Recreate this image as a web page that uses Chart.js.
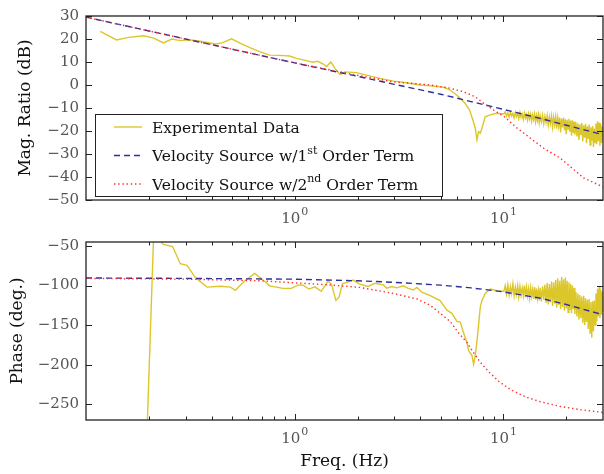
<!DOCTYPE html>
<html>
<head>
<meta charset="utf-8">
<script src="https://cdn.jsdelivr.net/npm/chart.js@4"></script>
<style>
  body { margin: 0; background: #fff; }
  #wrap { position: relative; width: 604px; height: 474px; }
  canvas { position: absolute; left: 0; }
</style>
</head>
<body>
<div id="wrap">
  <canvas id="magChart" width="604" height="226" style="top:0"></canvas>
  <canvas id="phaseChart" width="604" height="248" style="top:226px"></canvas>
</div>
<script>
// measured data (Hz, dB)
const magFreq = [0.117, 0.14, 0.16, 0.189, 0.211, 0.235, 0.258, 0.283, 0.31, 0.353, 0.417, 0.449, 0.498, 0.55, 0.614,
  0.679, 0.758, 0.847, 0.946, 1.02, 1.14, 1.22, 1.29, 1.37, 1.42, 1.49, 1.56, 1.65, 1.74, 1.98, 2.21, 2.56, 2.97, 3.44,
  3.99, 4.46, 5.17, 5.56, 6.1, 6.56, 6.88, 7.14, 7.33, 7.47, 7.6, 7.75, 7.89, 8.18, 8.65, 9.3, 10.05];
const magExp = [23.3, 19.6, 20.7, 21.4, 20.4, 18.3, 20, 19.3, 19.7, 19.0, 17.8, 18.3, 20.1, 18.1, 16.1,
  14.5, 13.0, 12.9, 12.6, 11.6, 10.6, 9.9, 10.3, 9.1, 8.0, 10.0, 7.2, 4.5, 5.7, 5.4, 4.3, 2.9, 1.7, 1.0,
  0, -0.4, -1.0, -2.2, -5.1, -8.0, -10.9, -15.2, -18.8, -23.9, -20.3, -21.0, -18.8, -13.8, -13.0, -12.3, -12.6];

// measured phase (Hz, deg)
const phaseFreq = [0.117, 0.14, 0.16, 0.189, 0.211, 0.235, 0.26, 0.283, 0.305, 0.334, 0.38, 0.441, 0.492, 0.52, 0.571,
  0.644, 0.726, 0.758, 0.879, 0.964, 1.04, 1.096, 1.17, 1.25, 1.34, 1.445, 1.5, 1.575, 1.63, 1.695, 1.77, 1.905, 2.05,
  2.25, 2.42, 2.66, 2.76, 2.92, 3.08, 3.32, 3.5, 3.7, 3.85, 4.06, 4.46, 4.97, 5.36, 5.66, 5.99, 6.21, 6.44, 6.69, 6.81,
  7.07, 7.2, 7.33, 7.47, 7.6, 7.75, 7.89, 8.18, 8.65, 9.3, 10.05];
const phaseExp = [-400, -405, -398, -410, -35, -48, -50.8, -72.5, -74.6, -90, -102, -101, -102, -106, -95,
  -84.8, -95.9, -100.4, -103.6, -103.6, -99.2, -99.6, -104.5, -101.7, -107.3, -94.3, -98.3, -118.9, -114.7, -97.5, -96.3, -93.1, -98.3,
  -101.2, -97.1, -99.2, -103.3, -101.2, -102.9, -100.4, -103.6, -105.7, -102.4, -108.5, -112.7, -119, -131.2, -135.2, -145.4, -146.3, -159.8, -172, -182.3,
  -188.5, -199.6, -188.5, -170, -150, -127, -119, -110, -104.5, -106.6, -107.3];

// noisy high-frequency part of the measurement
const noiseFreq = [10.2, 10.35, 10.5, 10.65, 10.8, 10.95, 11.1, 11.25, 11.4, 11.55, 11.7, 11.85, 12.0, 12.15, 12.3,
  12.45, 12.6, 12.75, 12.9, 13.05, 13.2, 13.35, 13.5, 13.65, 13.8, 13.95, 14.1, 14.25, 14.4, 14.55, 14.7, 14.85, 15.0,
  15.2, 15.4, 15.6, 15.8, 16.0, 16.2, 16.4, 16.6, 16.8, 17.0, 17.2, 17.4, 17.6, 17.8, 18.0, 18.2, 18.4, 18.6, 18.8,
  19.0, 19.2, 19.4, 19.6, 19.8, 20.0, 20.2, 20.4, 20.6, 20.8, 21.0, 21.2, 21.4, 21.6, 21.8, 22.0,
  22.25, 22.5, 22.75, 23.0, 23.25, 23.5, 23.75, 24.0, 24.25, 24.5, 24.75, 25.0, 25.25, 25.5, 25.75, 26.0, 26.25,
  26.5, 26.75, 27.0, 27.25, 27.5, 27.75, 28.0, 28.25, 28.5, 28.75, 29.0, 29.25, 29.5, 29.75, 30.0];
const noiseMag = [-11.6, -13.6, -12.1, -14.0, -11.8, -13.5, -12.3, -14.3, -11.9, -13.8, -12.4, -14.6, -12.0, -14.1, -12.6,
  -15.0, -12.2, -14.4, -12.9, -15.3, -12.5, -14.8, -12.7, -15.7, -13.0, -15.1, -12.6, -16.0, -13.2, -15.5, -12.9, -16.4, -13.3,
  -16.1, -13.0, -16.9, -13.6, -16.3, -13.2, -17.5, -13.8, -16.8, -13.4, -18.2, -14.0, -17.3, -13.7, -19.0, -14.3, -17.9, -14.1, -20.6,
  -14.6, -18.5, -14.2, -19.7, -14.9, -21.4, -15.1, -19.2, -14.7, -20.3, -15.5, -22.0, -15.3, -20.8, -15.9, -21.6,
  -16.2, -22.4, -16.6, -23.9, -17.1, -21.8, -16.4, -24.6, -17.5, -22.9, -16.9, -25.3, -18.0, -23.5, -17.2, -26.1, -18.4,
  -24.2, -17.8, -26.9, -18.9, -25.0, -16.7, -25.8, -15.8, -24.4, -16.3, -26.5, -17.0, -25.2, -18.1, -24.0];
const noisePhase = [-100, -111, -99, -112, -101, -110, -98, -113, -102, -111, -100, -114, -101, -112, -103,
  -113, -100, -115, -102, -113, -104, -116, -103, -114, -105, -117, -102, -118, -104, -116, -106, -119, -103,
  -120, -101, -118, -99, -122, -97, -124, -98, -121, -95, -126, -96, -123, -93, -128, -91, -125, -94, -130,
  -89, -127, -92, -132, -90, -129, -94, -134, -96, -131, -98, -135, -100, -130, -103, -136,
  -108, -139, -110, -143, -112, -141, -114, -147, -113, -150, -116, -146, -118, -155, -117, -160, -121,
  -166, -120, -158, -119, -150, -110, -145, -104, -139, -102, -141, -105, -137, -108, -134];

// model curves
const model1Freq = [0.1, 0.3, 1, 2, 3, 5, 7, 10, 15, 20, 30];
const model1Mag = [29.5, 20, 9.6, 3.8, 0.3, -4, -7.2, -10.6, -14.5, -17.5, -21.6];
const model1Phase = [-90.5, -91, -92, -94, -96, -99.5, -103, -108, -116, -124, -137];

const model2MagFreq = [0.1, 0.3, 1, 2, 2.97, 4.46, 5.56, 6.4, 7.33, 8.04, 8.98, 10.1, 11.65, 13.5, 15.6, 18.8, 24.2, 30];
const model2Mag = [29.5, 20, 9.6, 4.2, 1.4, 0, -1.4, -2.9, -5.1, -8, -10.9, -13.8, -18.8, -23.2, -27.5, -31.9, -40.4, -44.3];
const model2PhaseFreq = [0.1, 0.3, 0.68, 1.42, 2.05, 2.97, 3.85, 4.46, 4.97, 5.56, 6.1, 6.69, 7.07, 7.75, 8.5, 9.49,
  10.8, 12.8, 15.1, 18.8, 23.5, 30];
const model2Phase = [-91, -92, -94, -99, -102.4, -110, -117, -125, -135, -145.5, -160, -172, -182, -197, -209, -221,
  -231.5, -241, -247, -253, -257, -260.5];

// axes
const xMin = 0.1, xMax = 30;
const xMajorTicks = [1, 10];
const xTickExp = ['0', '1'];
const xMinorTicks = [0.2, 0.3, 0.4, 0.5, 0.6, 0.7, 0.8, 0.9, 2, 3, 4, 5, 6, 7, 8, 9, 20];
const magTicks = [30, 20, 10, 0, -10, -20, -30, -40, -50];
const phaseTicks = [-50, -100, -150, -200, -250];

const legendText = [
  [['Experimental Data', false]],
  [['Velocity Source w/1', false], ['st', true], [' Order Term', false]],
  [['Velocity Source w/2', false], ['nd', true], [' Order Term', false]]
];

const FONT = '"DejaVu Serif", serif';
const EXP_COLOR = '#dcc72a';
const BLUE = '#2e2e9c';
const RED = '#ff2b2b';

function pts(xs, ys) {
  return xs.map((x, i) => ({x: x, y: ys[i]}));
}

function lineSet(label, data, color, dash, order) {
  return {
    label: label, data: data, borderColor: color, borderWidth: 1.4, borderDash: dash,
    pointRadius: 0, tension: 0, fill: false, order: order
  };
}

// frame, inward ticks on all sides and x labels like 10^0
const frameTicks = {
  id: 'frameTicks',
  afterDraw(chart) {
    const {ctx, chartArea: a, scales: {x, y}} = chart;
    ctx.save();
    ctx.strokeStyle = '#222';
    ctx.lineWidth = 1;
    const vtick = (v, len) => {
      const px = Math.round(x.getPixelForValue(v)) + 0.5;
      if (px <= a.left + 1 || px >= a.right - 1) return;
      ctx.beginPath();
      ctx.moveTo(px, a.bottom); ctx.lineTo(px, a.bottom - len);
      ctx.moveTo(px, a.top); ctx.lineTo(px, a.top + len);
      ctx.stroke();
    };
    xMinorTicks.forEach(v => vtick(v, 3.5));
    xMajorTicks.forEach(v => vtick(v, 6));
    y.ticks.forEach(t => {
      const py = Math.round(y.getPixelForValue(t.value)) + 0.5;
      ctx.beginPath();
      ctx.moveTo(a.left, py); ctx.lineTo(a.left + 6, py);
      ctx.moveTo(a.right, py); ctx.lineTo(a.right - 6, py);
      ctx.stroke();
    });
    ctx.lineWidth = 1.3;
    ctx.strokeRect(a.left, a.top, a.right - a.left, a.bottom - a.top);

    // x tick labels
    ctx.fillStyle = '#555';
    ctx.textBaseline = 'alphabetic';
    xMajorTicks.forEach((v, i) => {
      const px = x.getPixelForValue(v);
      ctx.font = '15px ' + FONT;
      const w1 = ctx.measureText('10').width;
      ctx.font = '11px ' + FONT;
      const w2 = ctx.measureText(xTickExp[i]).width;
      const left = px - (w1 + w2 + 1) / 2;
      const base = a.bottom + 23;
      ctx.font = '15px ' + FONT;
      ctx.textAlign = 'left';
      ctx.fillText('10', left, base);
      ctx.font = '11px ' + FONT;
      ctx.fillText(xTickExp[i], left + w1 + 1, base - 8);
    });
    ctx.restore();
  }
};

const legendBox = {
  id: 'legendBox',
  afterDraw(chart) {
    const ctx = chart.ctx;
    const ds = [chart.data.datasets[0], chart.data.datasets[1], chart.data.datasets[2]];
    ctx.save();
    ctx.fillStyle = '#fff';
    ctx.fillRect(95.5, 114.5, 347, 82);
    ctx.strokeStyle = '#222';
    ctx.lineWidth = 1;
    ctx.strokeRect(95.5, 114.5, 347, 82);
    legendText.forEach((parts, i) => {
      const yy = 127 + i * 28.5;
      ctx.strokeStyle = ds[i].borderColor;
      ctx.lineWidth = 1.4;
      ctx.setLineDash(ds[i].borderDash || []);
      ctx.beginPath();
      ctx.moveTo(114, yy); ctx.lineTo(142, yy);
      ctx.stroke();
      ctx.setLineDash([]);
      let xx = 152;
      ctx.fillStyle = '#111';
      ctx.textBaseline = 'alphabetic';
      ctx.textAlign = 'left';
      parts.forEach(([txt, sup]) => {
        ctx.font = (sup ? '11px ' : '15.5px ') + FONT;
        ctx.fillText(txt, xx, yy + (sup ? -2 : 5.5));
        xx += ctx.measureText(txt).width;
      });
    });
    ctx.restore();
  }
};

function makeOptions(yMin, yMax, yTicks, yTitle, titlePad, xHeight, showXTitle) {
  return {
    responsive: false,
    animation: false,
    events: [],
    layout: {padding: {top: 0, right: 1, left: 0, bottom: 0}},
    plugins: {legend: {display: false}, tooltip: {enabled: false}},
    scales: {
      x: {
        type: 'logarithmic', min: xMin, max: xMax,
        grid: {display: false, drawTicks: false},
        border: {display: false},
        ticks: {display: false},
        afterFit: s => { s.height = xHeight; },
        title: {display: showXTitle, text: 'Freq. (Hz)', color: '#111',
          font: {family: FONT, size: 17}, padding: {top: 0, bottom: 2}}
      },
      y: {
        min: yMin, max: yMax,
        grid: {display: false, drawTicks: false},
        border: {display: false},
        afterBuildTicks: s => { s.ticks = yTicks.map(v => ({value: v})); },
        afterFit: s => { s.width = 86; },
        ticks: {color: '#555', padding: 7, font: {family: FONT, size: 15},
          callback: v => String(v).replace('-', '\u2212')},
        title: {display: true, text: yTitle, color: '#111',
          font: {family: FONT, size: 17}, padding: {top: titlePad, bottom: 0}}
      }
    }
  };
}

const magOpts = makeOptions(-50, 30, magTicks, 'Mag. Ratio (dB)', 15, 26, false);
magOpts.layout.padding.top = 16;
new Chart(document.getElementById('magChart'), {
  type: 'line',
  data: {
    datasets: [
      lineSet('Experimental Data', pts(magFreq.concat(noiseFreq), magExp.concat(noiseMag)), EXP_COLOR, [], 3),
      lineSet('Velocity Source w/1st Order Term', pts(model1Freq, model1Mag), BLUE, [6, 4], 2),
      lineSet('Velocity Source w/2nd Order Term', pts(model2MagFreq, model2Mag), RED, [1.4, 2.8], 1)
    ]
  },
  options: magOpts,
  plugins: [frameTicks, legendBox]
});

const phaseOpts = makeOptions(-270, -45, phaseTicks, 'Phase (deg.)', 7, 54, true);
phaseOpts.layout.padding.top = 10;
new Chart(document.getElementById('phaseChart'), {
  type: 'line',
  data: {
    datasets: [
      lineSet('Experimental Data', pts(phaseFreq.concat(noiseFreq), phaseExp.concat(noisePhase)), EXP_COLOR, [], 3),
      lineSet('Velocity Source w/1st Order Term', pts(model1Freq, model1Phase), BLUE, [6, 4], 2),
      lineSet('Velocity Source w/2nd Order Term', pts(model2PhaseFreq, model2Phase), RED, [1.4, 2.8], 1)
    ]
  },
  options: phaseOpts,
  plugins: [frameTicks]
});
</script>
</body>
</html>
